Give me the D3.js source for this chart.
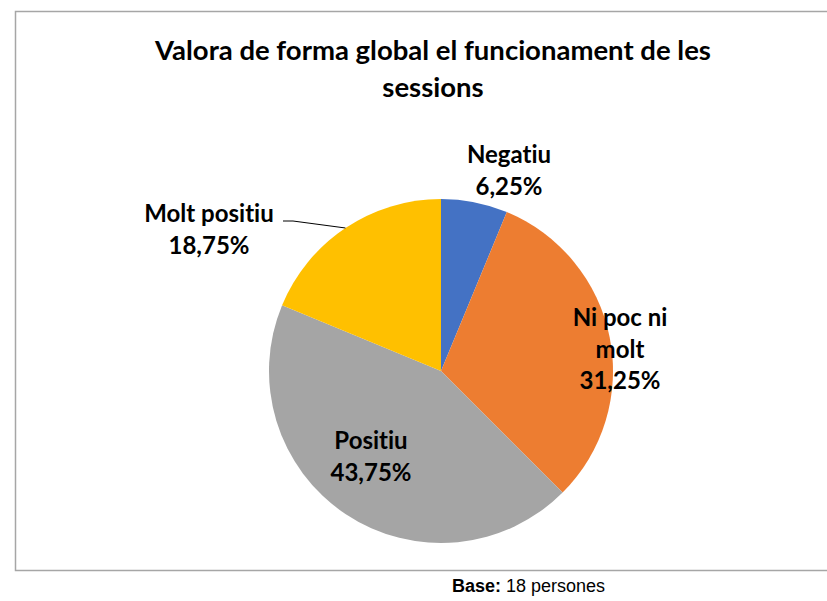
<!DOCTYPE html>
<html><head><meta charset="utf-8">
<script src="https://cdn.jsdelivr.net/npm/d3@7"></script>
<style>body{margin:0;background:#fff}svg{display:block}text{font-variant-ligatures:none}</style>
</head><body>
<svg id="c" width="827" height="601"></svg>
<script>
const categories = ["Negatiu", "Ni poc ni molt", "Positiu", "Molt positiu"];
const values = [6.25, 31.25, 43.75, 18.75];
const colors = ["#4472C4", "#ED7D31", "#A5A5A5", "#FFC000"];
const labelLines = [["Negatiu"], ["Ni poc ni", "molt"], ["Positiu"], ["Molt positiu"]];
const title = ["Valora de forma global el funcionament de les", "sessions"];

const svg = d3.select("#c");
svg.append("path").attr("d", "M828,11.5H15.5V570.5H828")
  .attr("fill", "none").attr("stroke", "#a6a6a6").attr("stroke-width", 1.5);

svg.append("text").attr("text-anchor", "middle")
  .attr("font-family", "Lato, 'Open Sans', sans-serif").attr("font-weight", "bold")
  .attr("font-size", 27.5).attr("fill", "#000")
  .selectAll("tspan").data(title).join("tspan")
  .attr("x", 433).attr("y", (d, i) => 60 + i * 37).text(d => d);

const cx = 441, cy = 371, R = 172;
const data = categories.map((c, i) => ({ c, v: values[i], i }));
const pie = d3.pie().value(d => d.v).sort(null);
const arcs = pie(data);
const arc = d3.arc().innerRadius(0).outerRadius(R);
const g = svg.append("g").attr("transform", `translate(${cx},${cy})`);
g.selectAll("path").data(arcs).join("path")
  .attr("d", arc).attr("fill", d => colors[d.data.i]);

const fmt = v => d3.format(".2f")(v).replace(".", ",") + "%";
const labelPos = [[509, 163], [620, 326], [371, 449], [209, 222]];
const lh = 31.5;
arcs.forEach((a, k) => {
  const lines = labelLines[k].concat([fmt(values[k])]);
  const t = svg.append("text").attr("text-anchor", "middle")
    .attr("font-family", "Lato, 'Open Sans', sans-serif").attr("font-weight", "bold")
    .attr("font-size", 24).attr("fill", "#000");
  t.selectAll("tspan").data(lines).join("tspan")
    .attr("x", labelPos[k][0]).attr("y", (d, j) => labelPos[k][1] + j * lh).text(d => d);
});

const a3 = arcs[3];
const ang = a3.startAngle + (a3.endAngle - a3.startAngle) * 0.5;
const ex = cx + R * Math.sin(ang), ey = cy - R * Math.cos(ang);
svg.append("polyline")
  .attr("points", `283,221 293,221 ${ex},${ey}`)
  .attr("fill", "none").attr("stroke", "#000").attr("stroke-width", 1);

const foot = svg.append("text").attr("x", 452).attr("y", 592)
  .attr("font-family", "'Liberation Sans', Arial, sans-serif").attr("font-size", 18).attr("fill", "#000");
foot.append("tspan").attr("font-weight", "bold").text("Base:");
foot.append("tspan").text(" 18 persones");
</script>
</body></html>
